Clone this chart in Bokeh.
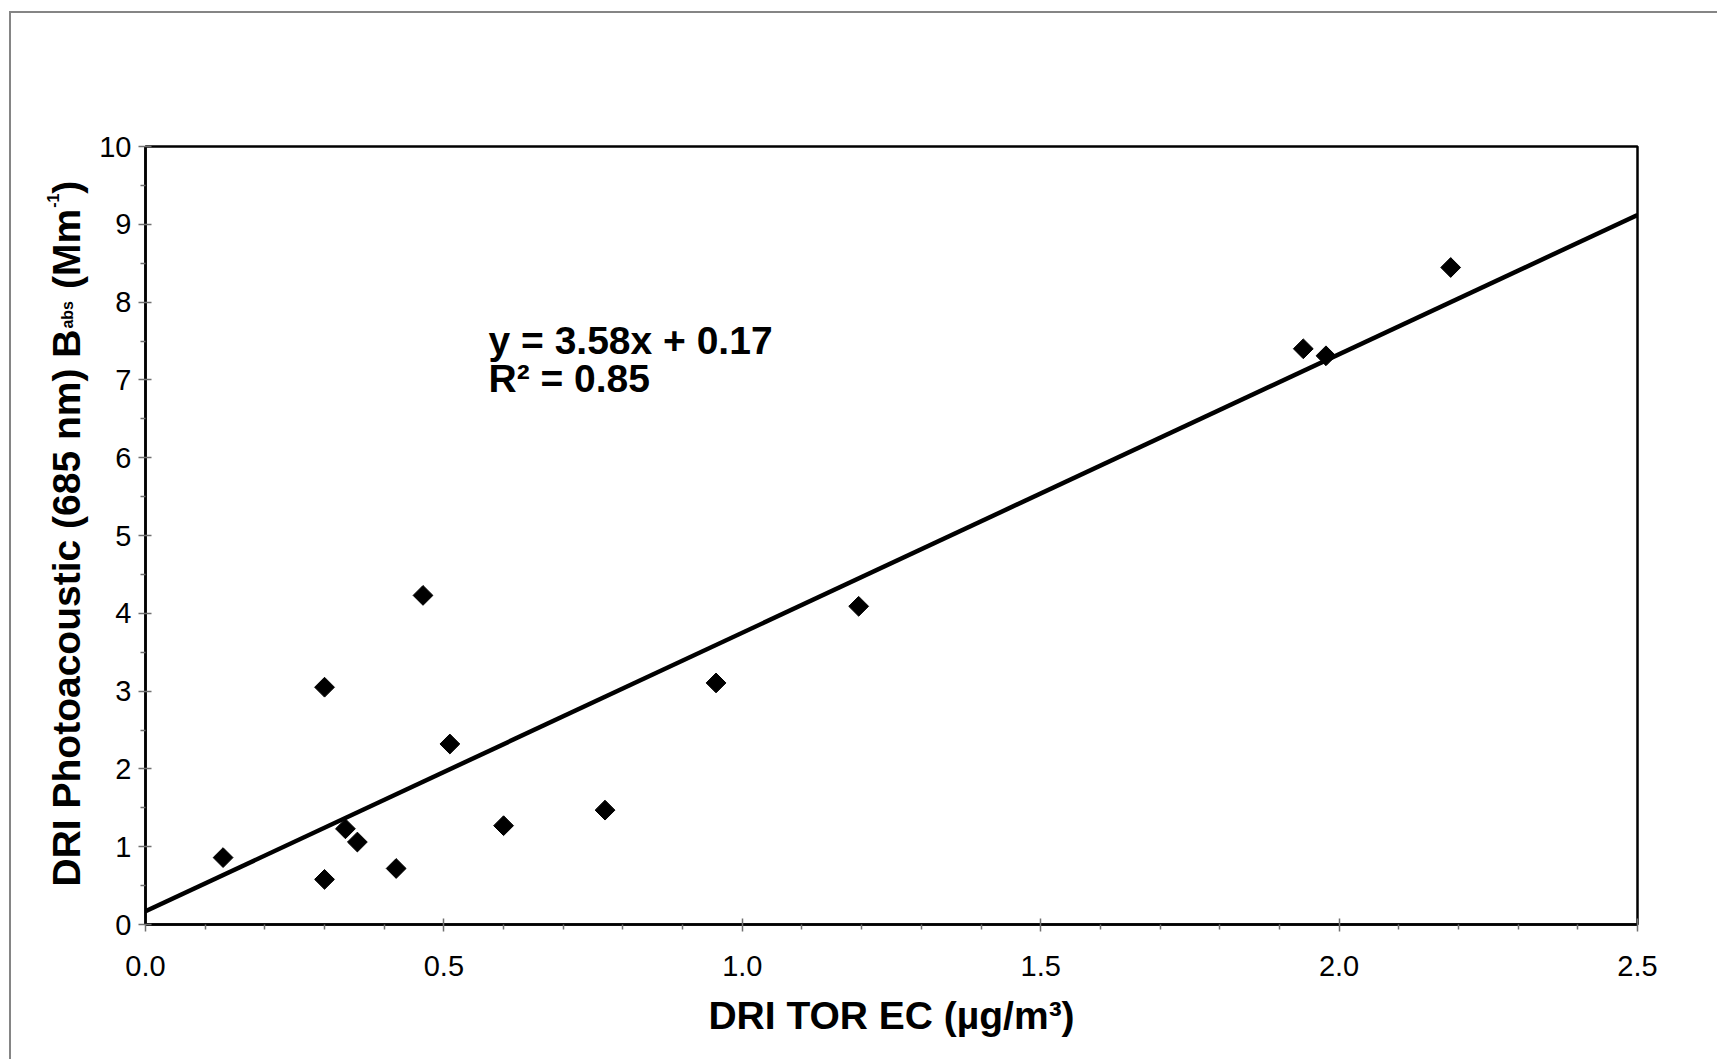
import numpy as np
from bokeh.plotting import figure
from bokeh.layouts import row
from bokeh.models import Range1d, Label, FixedTicker, NumeralTickFormatter, ColumnDataSource
from bokeh.core.properties import value
from bokeh.embed import file_html
from bokeh.resources import INLINE

# ---------------- data ----------------
ec = [0.13, 0.30, 0.30, 0.335, 0.355, 0.42, 0.465, 0.51, 0.60, 0.77, 0.956, 1.195, 1.94, 1.978, 2.187]
babs = [0.86, 3.05, 0.58, 1.23, 1.06, 0.72, 4.23, 2.32, 1.27, 1.47, 3.105, 4.09, 7.40, 7.31, 8.445]
slope = 3.58
intercept = 0.17
r_squared = 0.85
x_ticks = [0.0, 0.5, 1.0, 1.5, 2.0, 2.5]
y_ticks = [0, 1, 2, 3, 4, 5, 6, 7, 8, 9, 10]
x_label = "DRI TOR EC (µg/m³)"
y_label_parts = ["DRI Photoacoustic (685 nm) B", "abs", "(Mm", "-1", ")"]
eq_text = "y = 3.58x + 0.17"
r2_text = "R² = 0.85"

FONT = "Liberation Sans"

# ---------------- layout constants (page pixels) ----------------
ORG_X, ORG_Y = 11, 13          # top-left of content (inside the grey border)
TOTAL_W, H = 1706, 1046
LEFT_W = 79                    # strip that carries the rotated y label
FL, FT, FR, FB = 145.0, 146.0, 1637.0, 924.0   # frame edges on page
MAIN_W = TOTAL_W - LEFT_W
main_x0 = ORG_X + LEFT_W
B_TOP = int(FT - ORG_Y)
B_BOT = int(H - (FB - ORG_Y))

# ---------------- main figure ----------------
yr = Range1d(y_ticks[0], y_ticks[-1])
p = figure(width=MAIN_W, height=H, output_backend="svg", toolbar_location=None,
           x_range=Range1d(x_ticks[0], x_ticks[-1]), y_range=yr,
           min_border_left=int(FL - main_x0), min_border_top=B_TOP,
           min_border_right=int(MAIN_W - (FR - main_x0)),
           min_border_bottom=B_BOT)
p.background_fill_color = "white"
p.border_fill_color = "white"
p.xgrid.visible = False
p.ygrid.visible = False
p.outline_line_color = "black"
p.outline_line_width = 2.5
p.outline_line_alpha = 1.0

x_minor = [round(i * 0.1, 1) for i in range(int(x_ticks[-1] * 10) + 1) if i % 5]
y_minor = [t + 0.5 for t in y_ticks[:-1]]
p.xaxis.ticker = FixedTicker(ticks=x_ticks, minor_ticks=x_minor)
p.yaxis.ticker = FixedTicker(ticks=y_ticks, minor_ticks=y_minor)
p.xaxis.formatter = NumeralTickFormatter(format="0.0")
p.yaxis.formatter = NumeralTickFormatter(format="0")

for ax in (p.xaxis[0], p.yaxis[0]):
    ax.axis_line_color = "black"
    ax.axis_line_width = 2.5
    ax.major_tick_line_color = "#707070"
    ax.minor_tick_line_color = "#707070"
    ax.major_tick_line_width = 1.5
    ax.minor_tick_line_width = 1.5
    ax.major_tick_out = 7
    ax.major_tick_in = 6
    ax.minor_tick_out = 5
    ax.minor_tick_in = 0
    ax.major_label_text_font = FONT
    ax.major_label_text_font_size = "29px"
    ax.major_label_text_color = "black"

p.xaxis.major_label_standoff = 24
p.yaxis.major_label_standoff = 7
p.xaxis.axis_label = x_label
p.xaxis.axis_label_text_font = FONT
p.xaxis.axis_label_text_font_size = "39px"
p.xaxis.axis_label_text_font_style = "bold"
p.xaxis.axis_label_text_color = "black"
p.xaxis.axis_label_standoff = 15

# regression line
lx = np.array([x_ticks[0], x_ticks[-1]])
ly = slope * lx + intercept
p.line(lx, ly, line_color="black", line_width=4.5)

# points
p.scatter(ec, babs, marker="square", size=14, angle=np.pi / 4,
          fill_color="black", line_color="black")

def px_to_x(px):
    return (px - FL) / (FR - FL) * (x_ticks[-1] - x_ticks[0])
def py_to_y(py):
    return (FB - py) / (FB - FT) * (y_ticks[-1] - y_ticks[0])

for txt, py in ((eq_text, 340), (r2_text, 378)):
    p.add_layout(Label(x=px_to_x(488), y=py_to_y(py), text=txt,
                       text_font=FONT, text_font_size="39px", text_font_style="bold",
                       text_color="black", text_align="left", text_baseline="alphabetic"))

# ---------------- left strip with the rotated y label ----------------
left = figure(width=LEFT_W, height=H, output_backend="svg", toolbar_location=None,
              x_range=Range1d(0, LEFT_W), y_range=yr,
              min_border_left=0, min_border_right=0,
              min_border_top=B_TOP, min_border_bottom=B_BOT, outline_line_color=None)
left.axis.visible = False
left.grid.visible = False
left.border_fill_color = "white"
left.background_fill_color = "white"

big, small = 39, 16
em_widths = [14.28, 1.723, 2.055, 0.889, 0.333]   # Arial-bold widths in em
gaps_before = [0, 1, 12, 1, 0]                    # px gap before each piece
sizes = [big, small, big, small, big]
base_x = 66
offsets_x = [0, 1, 0, -14, 0]
pos = 886.0
xs, ys, fs = [], [], []
for w, g, s, dx in zip(em_widths, gaps_before, sizes, offsets_x):
    pos -= g
    xs.append(base_x + dx - ORG_X)
    ys.append(py_to_y(pos))
    fs.append(f"{s}px")
    pos -= w * s
src = ColumnDataSource(dict(x=xs, y=ys, text=y_label_parts, fs=fs))
left.text(x="x", y="y", text="text", source=src, angle=np.pi / 2,
          text_font=value(FONT), text_font_size="fs", text_font_style="bold",
          text_color="black", text_align="left", text_baseline="alphabetic")

layout = row(left, p, spacing=0,
             styles={"border-left": "2px solid #858585", "border-top": "2px solid #858585",
                     "margin-left": "9px", "margin-top": "11px"})

open("out.html", "w").write(file_html(layout, INLINE))
